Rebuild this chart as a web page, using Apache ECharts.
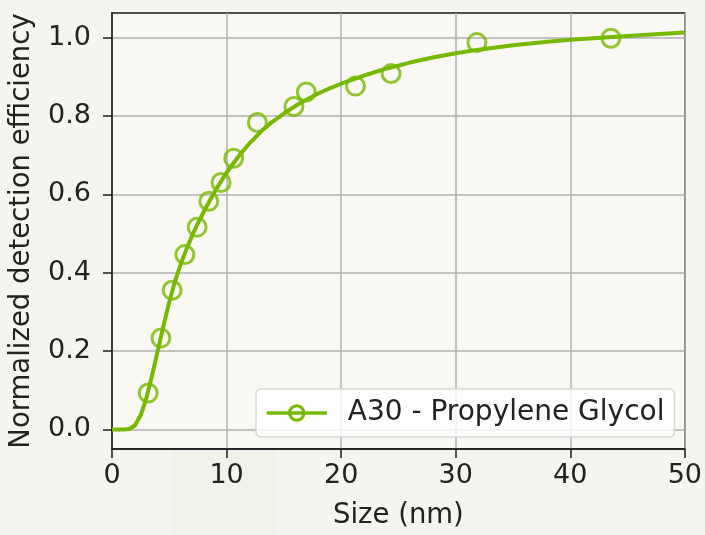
<!DOCTYPE html>
<html>
<head>
<meta charset="utf-8">
<script src="https://cdn.jsdelivr.net/npm/echarts@6/dist/echarts.min.js"></script>
<style>
  html, body { margin: 0; padding: 0; background: #f6f4f1; }
  #main { width: 705px; height: 535px; }
</style>
</head>
<body>
<div id="main"></div>
<script>
// fitted curve
let curveX = [0, 1, 1.5, 2, 2.5, 3, 3.5, 4, 4.5, 5, 5.5, 6, 6.5, 7, 7.5, 8, 8.5, 9, 9.5, 10, 11, 12, 13, 14, 15, 16, 17, 18, 19, 20, 22, 24, 26, 28, 30, 32, 35, 38, 40, 43, 46, 50];
let curveY = [0, 0, 0.001, 0.01, 0.036, 0.08, 0.138, 0.202, 0.265, 0.325, 0.378, 0.422, 0.46, 0.495, 0.526, 0.555, 0.582, 0.608, 0.632, 0.655, 0.695, 0.73, 0.76, 0.785, 0.806, 0.825, 0.842, 0.857, 0.87, 0.882, 0.903, 0.921, 0.936, 0.949, 0.96, 0.969, 0.98, 0.989, 0.994, 1.0, 1.006, 1.013];

// measured points
let sizeX = [3.16, 4.27, 5.25, 6.36, 7.43, 8.45, 9.52, 10.62, 12.69, 15.88, 16.96, 21.25, 24.36, 31.85, 43.55];
let effY = [0.093, 0.233, 0.355, 0.446, 0.516, 0.582, 0.630, 0.692, 0.783, 0.824, 0.861, 0.876, 0.908, 0.987, 0.998];

let yTicks = [0, 0.2, 0.4, 0.6, 0.8, 1.0];
let seriesName = 'A30 - Propylene Glycol';

let green = '#76b900';
let font = 'DejaVu Sans';

let myChart = echarts.init(document.getElementById('main'));

let option = {
  backgroundColor: '#f6f4f1',
  animation: false,
  textStyle: { fontFamily: font },
  grid: {
    left: 112, right: 19, top: 13, bottom: 82,
    show: true,
    backgroundColor: '#faf8f5',
    borderColor: '#1a1a1a',
    borderWidth: 1.5
  },
  graphic: [{
    type: 'rect',
    silent: true,
    z: -10,
    shape: { x: 173, y: 420, width: 102, height: 115 },
    style: { fill: 'rgba(215,228,200,0.12)' }
  }],
  legend: {
    data: [seriesName],
    left: 256, top: 389,
    orient: 'horizontal',
    padding: [10, 10, 10, 9],
    itemWidth: 60,
    itemHeight: 18,
    lineStyle: { width: 3.5 },
    itemStyle: { borderWidth: 3 },
    backgroundColor: 'rgba(255,255,255,0.8)',
    borderColor: '#d8d8d8',
    borderWidth: 1.5,
    borderRadius: 5,
    textStyle: { fontFamily: font, fontSize: 28, color: '#222', padding: [0, 0, 0, 16], lineHeight: 28 }
  },
  xAxis: {
    type: 'value',
    min: 0, max: 50, interval: 10,
    name: 'Size (nm)',
    nameLocation: 'middle',
    nameGap: 53,
    nameTextStyle: { fontFamily: font, fontSize: 27.5, color: '#222' },
    axisLine: { onZero: false, lineStyle: { color: '#1a1a1a', width: 1.5 } },
    axisTick: { show: true, length: 9, lineStyle: { color: '#1a1a1a', width: 1.5 } },
    axisLabel: { fontFamily: font, fontSize: 27, color: '#222', margin: 13 },
    splitLine: { show: true, lineStyle: { color: '#b0b0b0', width: 1.5 } }
  },
  yAxis: {
    type: 'value',
    min: -0.05, max: 1.0625,
    name: 'Normalized detection efficiency',
    nameLocation: 'middle',
    nameGap: 76,
    nameTextStyle: { fontFamily: font, fontSize: 27.5, color: '#222' },
    axisLine: { show: true, onZero: false, lineStyle: { color: '#1a1a1a', width: 1.5 } },
    axisTick: { show: true, length: 9, customValues: yTicks, lineStyle: { color: '#1a1a1a', width: 1.5 } },
    axisLabel: {
      fontFamily: font, fontSize: 27, color: '#222', margin: 21,
      customValues: yTicks,
      formatter: function (v) { return v.toFixed(1); }
    },
    splitLine: { show: true, customValues: yTicks, lineStyle: { color: '#b0b0b0', width: 1.5 } }
  },
  series: [{
    name: seriesName,
    type: 'line',
    data: curveX.map(function (x, i) { return [x, curveY[i]]; }),
    smooth: false,
    showSymbol: false,
    symbol: 'circle',
    symbolSize: 16,
    itemStyle: { color: 'rgba(0,0,0,0)', borderColor: green, borderWidth: 3 },
    lineStyle: { color: green, width: 4 },
    emphasis: { disabled: true },
    z: 3
  }, {
    name: seriesName,
    type: 'scatter',
    data: sizeX.map(function (x, i) { return [x, effY[i]]; }),
    symbol: 'circle',
    symbolSize: 18,
    itemStyle: { color: 'rgba(0,0,0,0)', borderColor: green, borderWidth: 3 },
    emphasis: { disabled: true },
    z: 4
  }]
};

myChart.setOption(option);
</script>
</body>
</html>
